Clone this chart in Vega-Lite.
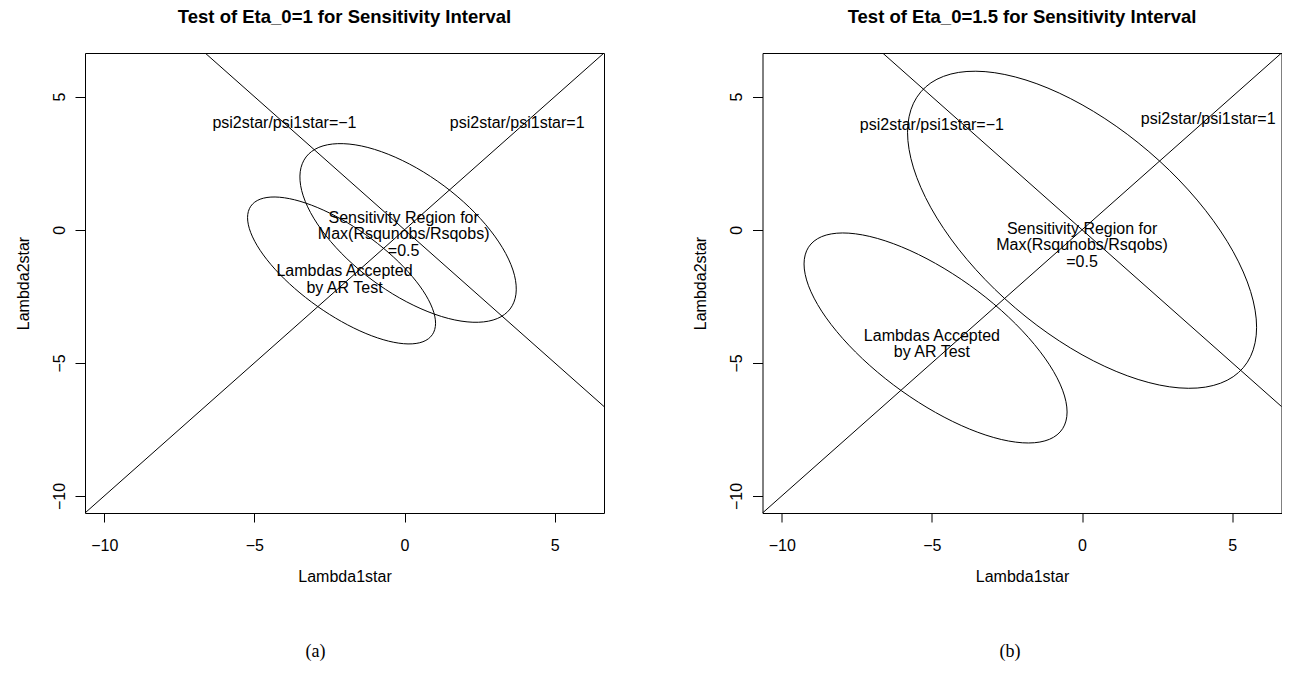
{
  "$schema": "https://vega.github.io/schema/vega-lite/v6.json",
  "padding": {"left": 14, "top": 7, "right": 0, "bottom": 0},
  "spacing": 86.5,
  "datasets": {
    "lines": [
      {"panel": "a", "line": "pos", "x": -12, "y": -12},
      {"panel": "a", "line": "pos", "x": 8, "y": 8},
      {"panel": "a", "line": "neg", "x": -8, "y": 8},
      {"panel": "a", "line": "neg", "x": 12, "y": -12},
      {"panel": "b", "line": "pos", "x": -12, "y": -12},
      {"panel": "b", "line": "pos", "x": 8, "y": 8},
      {"panel": "b", "line": "neg", "x": -8, "y": 8},
      {"panel": "b", "line": "neg", "x": 12, "y": -12}
    ],
    "labels": [
      {"panel": "a", "x": -4.0, "y": 4.0, "label": "psi2star/psi1star=−1"},
      {"panel": "a", "x": 3.75, "y": 4.0, "label": "psi2star/psi1star=1"},
      {"panel": "a", "x": -0.03, "y": 0.45, "label": "Sensitivity Region for\nMax(Rsqunobs/Rsqobs)\n=0.5"},
      {"panel": "a", "x": -2.0, "y": -1.55, "label": "Lambdas Accepted\nby AR Test"},
      {"panel": "b", "x": -5.0, "y": 3.95, "label": "psi2star/psi1star=−1"},
      {"panel": "b", "x": 4.2, "y": 4.15, "label": "psi2star/psi1star=1"},
      {"panel": "b", "x": 0.0, "y": 0.04, "label": "Sensitivity Region for\nMax(Rsqunobs/Rsqobs)\n=0.5"},
      {"panel": "b", "x": -5.0, "y": -3.99, "label": "Lambdas Accepted\nby AR Test"}
    ],
    "ellipses": [
      {"panel": "a", "ellipse": "AR", "t": 0, "x": 1.032, "y": -3.512},
      {"panel": "a", "ellipse": "AR", "t": 15, "x": 0.925, "y": -3.941},
      {"panel": "a", "ellipse": "AR", "t": 30, "x": 0.613, "y": -4.206},
      {"panel": "a", "ellipse": "AR", "t": 45, "x": 0.115, "y": -4.289},
      {"panel": "a", "ellipse": "AR", "t": 60, "x": -0.533, "y": -4.184},
      {"panel": "a", "ellipse": "AR", "t": 75, "x": -1.288, "y": -3.897},
      {"panel": "a", "ellipse": "AR", "t": 90, "x": -2.098, "y": -3.449},
      {"panel": "a", "ellipse": "AR", "t": 105, "x": -2.908, "y": -2.871},
      {"panel": "a", "ellipse": "AR", "t": 120, "x": -3.663, "y": -2.2},
      {"panel": "a", "ellipse": "AR", "t": 135, "x": -4.311, "y": -1.485},
      {"panel": "a", "ellipse": "AR", "t": 150, "x": -4.809, "y": -0.772},
      {"panel": "a", "ellipse": "AR", "t": 165, "x": -5.121, "y": -0.111},
      {"panel": "a", "ellipse": "AR", "t": 180, "x": -5.228, "y": 0.454},
      {"panel": "a", "ellipse": "AR", "t": 195, "x": -5.121, "y": 0.883},
      {"panel": "a", "ellipse": "AR", "t": 210, "x": -4.809, "y": 1.148},
      {"panel": "a", "ellipse": "AR", "t": 225, "x": -4.311, "y": 1.231},
      {"panel": "a", "ellipse": "AR", "t": 240, "x": -3.663, "y": 1.126},
      {"panel": "a", "ellipse": "AR", "t": 255, "x": -2.908, "y": 0.839},
      {"panel": "a", "ellipse": "AR", "t": 270, "x": -2.098, "y": 0.391},
      {"panel": "a", "ellipse": "AR", "t": 285, "x": -1.288, "y": -0.187},
      {"panel": "a", "ellipse": "AR", "t": 300, "x": -0.533, "y": -0.858},
      {"panel": "a", "ellipse": "AR", "t": 315, "x": 0.115, "y": -1.573},
      {"panel": "a", "ellipse": "AR", "t": 330, "x": 0.613, "y": -2.286},
      {"panel": "a", "ellipse": "AR", "t": 345, "x": 0.925, "y": -2.947},
      {"panel": "a", "ellipse": "SR", "t": 0, "x": 3.514, "y": -2.975},
      {"panel": "a", "ellipse": "SR", "t": 15, "x": 3.088, "y": -3.335},
      {"panel": "a", "ellipse": "SR", "t": 30, "x": 2.459, "y": -3.475},
      {"panel": "a", "ellipse": "SR", "t": 45, "x": 1.671, "y": -3.388},
      {"panel": "a", "ellipse": "SR", "t": 60, "x": 0.778, "y": -3.077},
      {"panel": "a", "ellipse": "SR", "t": 75, "x": -0.162, "y": -2.565},
      {"panel": "a", "ellipse": "SR", "t": 90, "x": -1.082, "y": -1.886},
      {"panel": "a", "ellipse": "SR", "t": 105, "x": -1.92, "y": -1.087},
      {"panel": "a", "ellipse": "SR", "t": 120, "x": -2.62, "y": -0.221},
      {"panel": "a", "ellipse": "SR", "t": 135, "x": -3.133, "y": 0.65},
      {"panel": "a", "ellipse": "SR", "t": 150, "x": -3.425, "y": 1.469},
      {"panel": "a", "ellipse": "SR", "t": 165, "x": -3.474, "y": 2.181},
      {"panel": "a", "ellipse": "SR", "t": 180, "x": -3.28, "y": 2.735},
      {"panel": "a", "ellipse": "SR", "t": 195, "x": -2.854, "y": 3.095},
      {"panel": "a", "ellipse": "SR", "t": 210, "x": -2.225, "y": 3.235},
      {"panel": "a", "ellipse": "SR", "t": 225, "x": -1.437, "y": 3.148},
      {"panel": "a", "ellipse": "SR", "t": 240, "x": -0.544, "y": 2.837},
      {"panel": "a", "ellipse": "SR", "t": 255, "x": 0.396, "y": 2.325},
      {"panel": "a", "ellipse": "SR", "t": 270, "x": 1.316, "y": 1.646},
      {"panel": "a", "ellipse": "SR", "t": 285, "x": 2.154, "y": 0.847},
      {"panel": "a", "ellipse": "SR", "t": 300, "x": 2.854, "y": -0.019},
      {"panel": "a", "ellipse": "SR", "t": 315, "x": 3.367, "y": -0.89},
      {"panel": "a", "ellipse": "SR", "t": 330, "x": 3.659, "y": -1.709},
      {"panel": "a", "ellipse": "SR", "t": 345, "x": 3.708, "y": -2.421},
      {"panel": "b", "ellipse": "AR", "t": 0, "x": -0.499, "y": -6.845},
      {"panel": "b", "ellipse": "AR", "t": 15, "x": -0.648, "y": -7.474},
      {"panel": "b", "ellipse": "AR", "t": 30, "x": -1.086, "y": -7.872},
      {"panel": "b", "ellipse": "AR", "t": 45, "x": -1.782, "y": -8.01},
      {"panel": "b", "ellipse": "AR", "t": 60, "x": -2.688, "y": -7.879},
      {"panel": "b", "ellipse": "AR", "t": 75, "x": -3.745, "y": -7.488},
      {"panel": "b", "ellipse": "AR", "t": 90, "x": -4.878, "y": -6.864},
      {"panel": "b", "ellipse": "AR", "t": 105, "x": -6.011, "y": -6.05},
      {"panel": "b", "ellipse": "AR", "t": 120, "x": -7.068, "y": -5.099},
      {"panel": "b", "ellipse": "AR", "t": 135, "x": -7.974, "y": -4.078},
      {"panel": "b", "ellipse": "AR", "t": 150, "x": -8.67, "y": -3.058},
      {"panel": "b", "ellipse": "AR", "t": 165, "x": -9.108, "y": -2.104},
      {"panel": "b", "ellipse": "AR", "t": 180, "x": -9.257, "y": -1.285},
      {"panel": "b", "ellipse": "AR", "t": 195, "x": -9.108, "y": -0.656},
      {"panel": "b", "ellipse": "AR", "t": 210, "x": -8.67, "y": -0.258},
      {"panel": "b", "ellipse": "AR", "t": 225, "x": -7.974, "y": -0.12},
      {"panel": "b", "ellipse": "AR", "t": 240, "x": -7.068, "y": -0.251},
      {"panel": "b", "ellipse": "AR", "t": 255, "x": -6.011, "y": -0.642},
      {"panel": "b", "ellipse": "AR", "t": 270, "x": -4.878, "y": -1.266},
      {"panel": "b", "ellipse": "AR", "t": 285, "x": -3.745, "y": -2.08},
      {"panel": "b", "ellipse": "AR", "t": 300, "x": -2.688, "y": -3.031},
      {"panel": "b", "ellipse": "AR", "t": 315, "x": -1.782, "y": -4.052},
      {"panel": "b", "ellipse": "AR", "t": 330, "x": -1.086, "y": -5.072},
      {"panel": "b", "ellipse": "AR", "t": 345, "x": -0.648, "y": -6.026},
      {"panel": "b", "ellipse": "SR", "t": 0, "x": 5.811, "y": -3.663},
      {"panel": "b", "ellipse": "SR", "t": 15, "x": 5.613, "y": -4.753},
      {"panel": "b", "ellipse": "SR", "t": 30, "x": 5.032, "y": -5.52},
      {"panel": "b", "ellipse": "SR", "t": 45, "x": 4.109, "y": -5.911},
      {"panel": "b", "ellipse": "SR", "t": 60, "x": 2.906, "y": -5.899},
      {"panel": "b", "ellipse": "SR", "t": 75, "x": 1.504, "y": -5.484},
      {"panel": "b", "ellipse": "SR", "t": 90, "x": 0.0, "y": -4.696},
      {"panel": "b", "ellipse": "SR", "t": 105, "x": -1.504, "y": -3.588},
      {"panel": "b", "ellipse": "SR", "t": 120, "x": -2.906, "y": -2.235},
      {"panel": "b", "ellipse": "SR", "t": 135, "x": -4.109, "y": -0.731},
      {"panel": "b", "ellipse": "SR", "t": 150, "x": -5.032, "y": 0.824},
      {"panel": "b", "ellipse": "SR", "t": 165, "x": -5.613, "y": 2.323},
      {"panel": "b", "ellipse": "SR", "t": 180, "x": -5.811, "y": 3.663},
      {"panel": "b", "ellipse": "SR", "t": 195, "x": -5.613, "y": 4.753},
      {"panel": "b", "ellipse": "SR", "t": 210, "x": -5.032, "y": 5.52},
      {"panel": "b", "ellipse": "SR", "t": 225, "x": -4.109, "y": 5.911},
      {"panel": "b", "ellipse": "SR", "t": 240, "x": -2.906, "y": 5.899},
      {"panel": "b", "ellipse": "SR", "t": 255, "x": -1.504, "y": 5.484},
      {"panel": "b", "ellipse": "SR", "t": 270, "x": 0.0, "y": 4.696},
      {"panel": "b", "ellipse": "SR", "t": 285, "x": 1.504, "y": 3.588},
      {"panel": "b", "ellipse": "SR", "t": 300, "x": 2.906, "y": 2.235},
      {"panel": "b", "ellipse": "SR", "t": 315, "x": 4.109, "y": 0.731},
      {"panel": "b", "ellipse": "SR", "t": 330, "x": 5.032, "y": -0.824},
      {"panel": "b", "ellipse": "SR", "t": 345, "x": 5.613, "y": -2.323}
    ]
  },
  "hconcat": [
    {
      "title": {"text": "(a)", "orient": "bottom", "anchor": "middle", "font": "Liberation Serif", "fontSize": 18, "fontWeight": "normal", "offset": 58, "dx": 6},
      "vconcat": [
        {
          "title": {"text": "Test of Eta_0=1 for Sensitivity Interval", "frame": "group", "anchor": "middle", "offset": 27},
          "width": 519,
          "height": 460,
          "encoding": {
            "x": {"field": "x", "type": "quantitative", "scale": {"domain": [-10.64, 6.64], "nice": false, "zero": false}, "axis": {"title": "Lambda1star", "values": [-10, -5, 0, 5], "tickSize": 9, "labelPadding": 15, "titlePadding": 15}},
            "y": {"field": "y", "type": "quantitative", "scale": {"domain": [-10.64, 6.64], "nice": false, "zero": false}, "axis": {"title": "Lambda2star", "values": [-10, -5, 0, 5], "tickSize": 10, "labelAngle": -90, "labelAlign": "center", "labelBaseline": "alphabetic", "labelPadding": 11, "titlePadding": 20}}
          },
          "layer": [
            {
              "data": {"name": "lines"},
              "transform": [{"filter": "datum.panel === 'a'"}],
              "mark": {"type": "line", "color": "black", "strokeWidth": 1, "clip": true},
              "encoding": {"detail": {"field": "line"}}
            },
            {
              "data": {"name": "ellipses"},
              "transform": [{"filter": "datum.panel === 'a'"}],
              "mark": {"type": "line", "color": "black", "strokeWidth": 1, "interpolate": "cardinal-closed"},
              "encoding": {"detail": {"field": "ellipse"}, "order": {"field": "t", "type": "quantitative"}}
            },
            {
              "data": {"name": "labels"},
              "transform": [{"filter": "datum.panel === 'a'"}],
              "mark": {"type": "text", "fontSize": 16, "lineBreak": "\n", "lineHeight": 16.5, "align": "center", "baseline": "middle", "color": "black"},
              "encoding": {"text": {"field": "label"}}
            }
          ]
        }
      ]
    },
    {
      "title": {"text": "(b)", "orient": "bottom", "anchor": "middle", "font": "Liberation Serif", "fontSize": 18, "fontWeight": "normal", "offset": 58, "dx": 23},
      "vconcat": [
        {
          "title": {"text": "Test of Eta_0=1.5 for Sensitivity Interval", "frame": "group", "anchor": "middle", "offset": 27},
          "width": 519,
          "height": 460,
          "encoding": {
            "x": {"field": "x", "type": "quantitative", "scale": {"domain": [-10.64, 6.64], "nice": false, "zero": false}, "axis": {"title": "Lambda1star", "values": [-10, -5, 0, 5], "tickSize": 9, "labelPadding": 15, "titlePadding": 15}},
            "y": {"field": "y", "type": "quantitative", "scale": {"domain": [-10.64, 6.64], "nice": false, "zero": false}, "axis": {"title": "Lambda2star", "values": [-10, -5, 0, 5], "tickSize": 10, "labelAngle": -90, "labelAlign": "center", "labelBaseline": "alphabetic", "labelPadding": 11, "titlePadding": 20}}
          },
          "layer": [
            {
              "data": {"name": "lines"},
              "transform": [{"filter": "datum.panel === 'b'"}],
              "mark": {"type": "line", "color": "black", "strokeWidth": 1, "clip": true},
              "encoding": {"detail": {"field": "line"}}
            },
            {
              "data": {"name": "ellipses"},
              "transform": [{"filter": "datum.panel === 'b'"}],
              "mark": {"type": "line", "color": "black", "strokeWidth": 1, "interpolate": "cardinal-closed"},
              "encoding": {"detail": {"field": "ellipse"}, "order": {"field": "t", "type": "quantitative"}}
            },
            {
              "data": {"name": "labels"},
              "transform": [{"filter": "datum.panel === 'b'"}],
              "mark": {"type": "text", "fontSize": 16, "lineBreak": "\n", "lineHeight": 16.5, "align": "center", "baseline": "middle", "color": "black"},
              "encoding": {"text": {"field": "label"}}
            }
          ]
        }
      ]
    }
  ],
  "config": {
    "font": "Liberation Sans",
    "background": "white",
    "view": {"stroke": "black", "strokeWidth": 1},
    "axis": {"domain": false, "grid": false, "tickColor": "black", "tickWidth": 1, "labelColor": "black", "titleColor": "black", "labelFontSize": 16, "titleFontSize": 16, "titleFontWeight": "normal", "labelFont": "Liberation Sans", "titleFont": "Liberation Sans"},
    "title": {"fontSize": 18.5, "fontWeight": "bold", "font": "Liberation Sans", "color": "black"}
  }
}
